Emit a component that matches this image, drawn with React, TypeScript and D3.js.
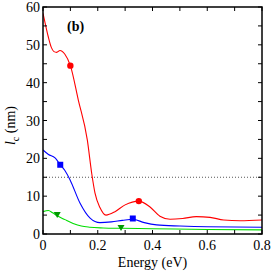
import React from 'react';
import * as d3 from 'd3';

// curves: [energy (eV), l_c (nm)]
const redCurve: [number, number][] = [
  [0, 58.3], [0.01, 55], [0.019, 52.2], [0.03, 49.4], [0.04, 48.2], [0.05, 48.0], [0.062, 48.5],
  [0.08, 47.5], [0.1, 44.5], [0.129, 35.4], [0.162, 24.8], [0.178, 16], [0.19, 10.8], [0.208, 7.0],
  [0.23, 5.0], [0.263, 5.9], [0.3, 7.7], [0.35, 8.7], [0.39, 7.2], [0.427, 4.7], [0.464, 3.9],
  [0.51, 4.1], [0.56, 4.6], [0.61, 4.4], [0.66, 3.7], [0.72, 3.5], [0.8, 3.7],
];
const blueCurve: [number, number][] = [
  [0, 22.2], [0.02, 21.0], [0.044, 20.1], [0.063, 18.3], [0.08, 16.8], [0.099, 14.3], [0.135, 8.2],
  [0.172, 4.2], [0.208, 3.0], [0.25, 3.2], [0.29, 3.6], [0.328, 3.9], [0.37, 3.0], [0.415, 2.4],
  [0.5, 2.1], [0.6, 1.9], [0.8, 1.8],
];
const greenCurve: [number, number][] = [
  [0, 5.9], [0.02, 6.2], [0.035, 5.6], [0.052, 4.8], [0.08, 3.8], [0.11, 2.8], [0.14, 2.1],
  [0.17, 1.8], [0.22, 1.6], [0.285, 1.5], [0.4, 1.4], [0.6, 1.2], [0.8, 1.1],
];
const redMarkers: [number, number][] = [[0.1, 44.5], [0.35, 8.7]];
const blueMarkers: [number, number][] = [[0.063, 18.3], [0.328, 4.1]];
const greenMarkers: [number, number][] = [[0.052, 5.0], [0.285, 1.6]];
const refLevel = 15;

const xTicks = [0, 0.1, 0.2, 0.3, 0.4, 0.5, 0.6, 0.7, 0.8];
const xLabels = ['0', '0.2', '0.4', '0.6', '0.8'];
const yTicks = [0, 5, 10, 15, 20, 25, 30, 35, 40, 45, 50, 55, 60];
const yLabels = [0, 10, 20, 30, 40, 50, 60];

const W = 273, H = 273;
const left = 43, right = 262, top = 7, bottom = 234;

export default function App() {
  const x = d3.scaleLinear().domain([0, 0.8]).range([left, right]);
  const y = d3.scaleLinear().domain([0, 60]).range([bottom, top]);
  const line = d3.line<[number, number]>().x(d => x(d[0])).y(d => y(d[1])).curve(d3.curveMonotoneX);
  const tl = 4;

  return (
    <svg width={W} height={H} style={{ position: 'absolute', left: 0, top: 0, fontFamily: "'Liberation Serif', 'DejaVu Serif', serif" }}>
      <defs>
        <clipPath id="plot"><rect x={left} y={top} width={right - left} height={bottom - top} /></clipPath>
      </defs>
      <line x1={x(0)} x2={x(0.8)} y1={y(refLevel)} y2={y(refLevel)} stroke="#555" strokeWidth={1} strokeDasharray="1,2" />
      <g clipPath="url(#plot)" fill="none" strokeWidth={1.1}>
        <path d={line(redCurve) ?? ''} stroke="#ff0000" />
        <path d={line(blueCurve) ?? ''} stroke="#0000ff" />
        <path d={line(greenCurve) ?? ''} stroke="#00dd00" />
      </g>
      {redMarkers.map((d, i) => (
        <circle key={'r' + i} cx={x(d[0])} cy={y(d[1])} r={3.2} fill="#ff0000" />
      ))}
      {blueMarkers.map((d, i) => (
        <rect key={'b' + i} x={x(d[0]) - 3} y={y(d[1]) - 3} width={6} height={6} fill="#0000ff" />
      ))}
      {greenMarkers.map((d, i) => (
        <path key={'g' + i} d={`M${x(d[0]) - 3.5},${y(d[1]) - 3}L${x(d[0]) + 3.5},${y(d[1]) - 3}L${x(d[0])},${y(d[1]) + 3}Z`} fill="#009900" />
      ))}
      <g stroke="#000" strokeWidth={1}>
        {xTicks.map(t => (
          <g key={'x' + t}>
            <line x1={x(t)} x2={x(t)} y1={bottom} y2={bottom - tl} />
            <line x1={x(t)} x2={x(t)} y1={top} y2={top + tl} />
          </g>
        ))}
        {yTicks.map(t => (
          <g key={'y' + t}>
            <line x1={left} x2={left + tl} y1={y(t)} y2={y(t)} />
            <line x1={right} x2={right - tl} y1={y(t)} y2={y(t)} />
          </g>
        ))}
      </g>
      <rect x={left} y={top} width={right - left} height={bottom - top} fill="none" stroke="#000" strokeWidth={1.5} />
      {xLabels.map(t => (
        <text key={'xl' + t} x={x(+t)} y={bottom + 16} textAnchor="middle" fontSize={14}>{t}</text>
      ))}
      {yLabels.map(t => (
        <text key={'yl' + t} x={left - 3} y={y(t) + 5} textAnchor="end" fontSize={14}>{t}</text>
      ))}
      <text x={(left + right) / 2} y={H - 6} textAnchor="middle" fontSize={14}>Energy (eV)</text>
      <text transform={`translate(15,${(top + bottom) / 2 + 5}) rotate(-90)`} textAnchor="middle" fontSize={14}>
        <tspan fontStyle="italic">l</tspan>
        <tspan fontSize={10} dy={4}>c</tspan>
        <tspan dy={-4}> (nm)</tspan>
      </text>
      <text x={67} y={31} fontSize={14} fontWeight="bold">(b)</text>
    </svg>
  );
}
